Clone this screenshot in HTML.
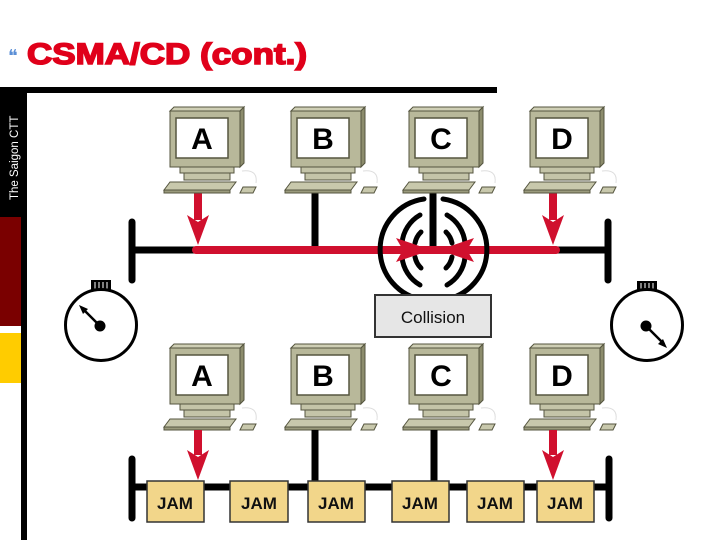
<!DOCTYPE html>
<html><head><style>
html,body{margin:0;padding:0;background:#fff;}
body{width:720px;height:540px;overflow:hidden;position:relative;font-family:"Liberation Sans",sans-serif;}
</style></head><body>
<svg width="720" height="540" viewBox="0 0 720 540" xmlns="http://www.w3.org/2000/svg" style="position:absolute;left:0;top:0">
<defs>
<g id="pc">
  <polygon points="0,0 70,0 70,56 0,56" fill="#b8b89a" stroke="#55553f" stroke-width="1"/>
  <polygon points="0,0 4,-4 74,-4 70,0" fill="#cfcfb5" stroke="#55553f" stroke-width="1"/>
  <polygon points="70,0 74,-4 74,52 70,56" fill="#8c8c6c" stroke="#55553f" stroke-width="1"/>
  <rect x="6" y="7" width="52" height="40" fill="#fff" stroke="#55553f" stroke-width="1.5"/>
  <rect x="10" y="56" width="54" height="6" fill="#c4c4a8" stroke="#55553f" stroke-width="1"/>
  <rect x="14" y="62" width="46" height="7" fill="#c4c4a8" stroke="#55553f" stroke-width="1"/>
  <polygon points="-6,79 0,71 66,71 60,79" fill="#c8c8ac" stroke="#55553f" stroke-width="1"/>
  <polygon points="-6,79 60,79 60,82 -6,82" fill="#9a9a7c" stroke="#55553f" stroke-width="1"/>
  <path d="M72,60 Q88,58 86,72" fill="none" stroke="#ddd" stroke-width="1"/>
  <polygon points="70,82 73,76 86,76 83,82" fill="#c8c8ac" stroke="#55553f" stroke-width="1"/>
</g>
</defs>

<!-- title -->
<text x="8" y="62" font-family="Liberation Sans,sans-serif" font-size="18" fill="#5b8fd6">❝</text>
<text x="27" y="64" font-family="Liberation Sans,sans-serif" font-weight="bold" font-size="30" fill="#e0001a" stroke="#e0001a" stroke-width="1.6" textLength="280" lengthAdjust="spacingAndGlyphs">CSMA/CD (cont.)</text>

<!-- frame -->
<rect x="0" y="87" width="497" height="6" fill="#000"/>
<rect x="0" y="87" width="27" height="130" fill="#000"/>
<rect x="21" y="87" width="6" height="453" fill="#000"/>
<rect x="0" y="217" width="21" height="109" fill="#7a0000"/>
<rect x="0" y="333" width="21" height="50" fill="#ffcc00"/>
<text transform="translate(18,200) rotate(-90)" font-family="Liberation Sans,sans-serif" font-size="11.5" fill="#fff">The Saigon CTT</text>

<!-- top network -->
<line x1="132" y1="250" x2="608" y2="250" stroke="#000" stroke-width="7"/>
<line x1="132" y1="222" x2="132" y2="280" stroke="#000" stroke-width="7" stroke-linecap="round"/>
<line x1="608" y1="222" x2="608" y2="280" stroke="#000" stroke-width="7" stroke-linecap="round"/>
<line x1="315" y1="192" x2="315" y2="250" stroke="#000" stroke-width="7"/>
<line x1="433" y1="192" x2="433" y2="250" stroke="#000" stroke-width="7"/>
<line x1="196" y1="250" x2="556" y2="250" stroke="#d0102e" stroke-width="8" stroke-linecap="round"/>
<g fill="none" stroke="#000" stroke-width="5" stroke-linecap="round">
  <path d="M424,199 A51,51 0 0 0 424,300"/>
  <path d="M443,199 A51,51 0 0 1 443,300"/>
  <path d="M420,215 A36,36 0 0 0 402,243"/>
  <path d="M402,257 A36,36 0 0 0 420,285"/>
  <path d="M447,215 A36,36 0 0 1 465,243"/>
  <path d="M465,257 A36,36 0 0 1 447,285"/>
  <path d="M421,232 A21,21 0 0 0 415,243"/>
  <path d="M415,257 A21,21 0 0 0 421,268"/>
  <path d="M446,232 A21,21 0 0 1 452,243"/>
  <path d="M452,257 A21,21 0 0 1 446,268"/>
</g>
<polygon points="396,238 431,250 396,262 403,250" fill="#d0102e"/>
<polygon points="474,238 439,250 474,262 467,250" fill="#d0102e"/>
<rect x="194" y="192" width="8" height="28" fill="#d0102e"/>
<polygon points="187,215 198,245 209,215 198,222" fill="#d0102e"/>
<rect x="549" y="192" width="8" height="28" fill="#d0102e"/>
<polygon points="542,215 553,245 564,215 553,222" fill="#d0102e"/>

<use href="#pc" x="170" y="111"/>
<use href="#pc" x="291" y="111"/>
<use href="#pc" x="409" y="111"/>
<use href="#pc" x="530" y="111"/>

<rect x="375" y="295" width="116" height="42" fill="#e6e6e6" stroke="#333" stroke-width="2"/>
<text x="433" y="323" font-family="Liberation Sans,sans-serif" font-size="17" text-anchor="middle" fill="#111">Collision</text>

<!-- stopwatches -->
<g>
  <rect x="91" y="280" width="20" height="10" fill="#000"/>
  <line x1="95" y1="282" x2="95" y2="290" stroke="#fff" stroke-width="1"/>
  <line x1="99" y1="282" x2="99" y2="290" stroke="#fff" stroke-width="1"/>
  <line x1="103" y1="282" x2="103" y2="290" stroke="#fff" stroke-width="1"/>
  <line x1="107" y1="282" x2="107" y2="290" stroke="#fff" stroke-width="1"/>
  <circle cx="101" cy="325" r="35.5" fill="#fff" stroke="#000" stroke-width="3"/>
  <circle cx="100" cy="326" r="5.5" fill="#000"/>
  <line x1="100" y1="326" x2="82" y2="308" stroke="#000" stroke-width="2.5"/>
  <polygon points="79,305 88,309 83,314" fill="#000"/>
</g>
<g>
  <rect x="637" y="281" width="20" height="10" fill="#000"/>
  <line x1="641" y1="283" x2="641" y2="291" stroke="#fff" stroke-width="1"/>
  <line x1="645" y1="283" x2="645" y2="291" stroke="#fff" stroke-width="1"/>
  <line x1="649" y1="283" x2="649" y2="291" stroke="#fff" stroke-width="1"/>
  <line x1="653" y1="283" x2="653" y2="291" stroke="#fff" stroke-width="1"/>
  <circle cx="647" cy="325" r="35.5" fill="#fff" stroke="#000" stroke-width="3"/>
  <circle cx="646" cy="326" r="5.5" fill="#000"/>
  <line x1="646" y1="326" x2="664" y2="344" stroke="#000" stroke-width="2.5"/>
  <polygon points="667,348 658,344 663,339" fill="#000"/>
</g>

<!-- bottom network -->
<use href="#pc" x="170" y="348"/>
<use href="#pc" x="291" y="348"/>
<use href="#pc" x="409" y="348"/>
<use href="#pc" x="530" y="348"/>
<g font-family="Liberation Sans,sans-serif" font-weight="bold" font-size="30" text-anchor="middle" fill="#000">
<text x="202" y="149">A</text><text x="323" y="149">B</text><text x="441" y="149">C</text><text x="562" y="149">D</text>
<text x="202" y="386">A</text><text x="323" y="386">B</text><text x="441" y="386">C</text><text x="562" y="386">D</text>
</g>
<line x1="132" y1="487" x2="608" y2="487" stroke="#000" stroke-width="7"/>
<line x1="132" y1="459" x2="132" y2="518" stroke="#000" stroke-width="7" stroke-linecap="round"/>
<line x1="609" y1="459" x2="609" y2="518" stroke="#000" stroke-width="7" stroke-linecap="round"/>
<line x1="315" y1="430" x2="315" y2="485" stroke="#000" stroke-width="7"/>
<line x1="434" y1="430" x2="434" y2="485" stroke="#000" stroke-width="7"/>
<rect x="194" y="430" width="8" height="25" fill="#d0102e"/>
<polygon points="187,450 198,480 209,450 198,457" fill="#d0102e"/>
<rect x="549" y="430" width="8" height="25" fill="#d0102e"/>
<polygon points="542,450 553,480 564,450 553,457" fill="#d0102e"/>
<g fill="#f2d68a" stroke="#333" stroke-width="1.5">
  <rect x="147" y="481" width="57" height="41"/>
  <rect x="230" y="481" width="58" height="41"/>
  <rect x="308" y="481" width="57" height="41"/>
  <rect x="392" y="481" width="57" height="41"/>
  <rect x="467" y="481" width="57" height="41"/>
  <rect x="537" y="481" width="57" height="41"/>
</g>
<g font-family="Liberation Sans,sans-serif" font-weight="bold" font-size="17" text-anchor="middle" fill="#111">
  <text x="175" y="509">JAM</text><text x="259" y="509">JAM</text><text x="336" y="509">JAM</text>
  <text x="420" y="509">JAM</text><text x="495" y="509">JAM</text><text x="565" y="509">JAM</text>
</g>
</svg>
</body></html>
